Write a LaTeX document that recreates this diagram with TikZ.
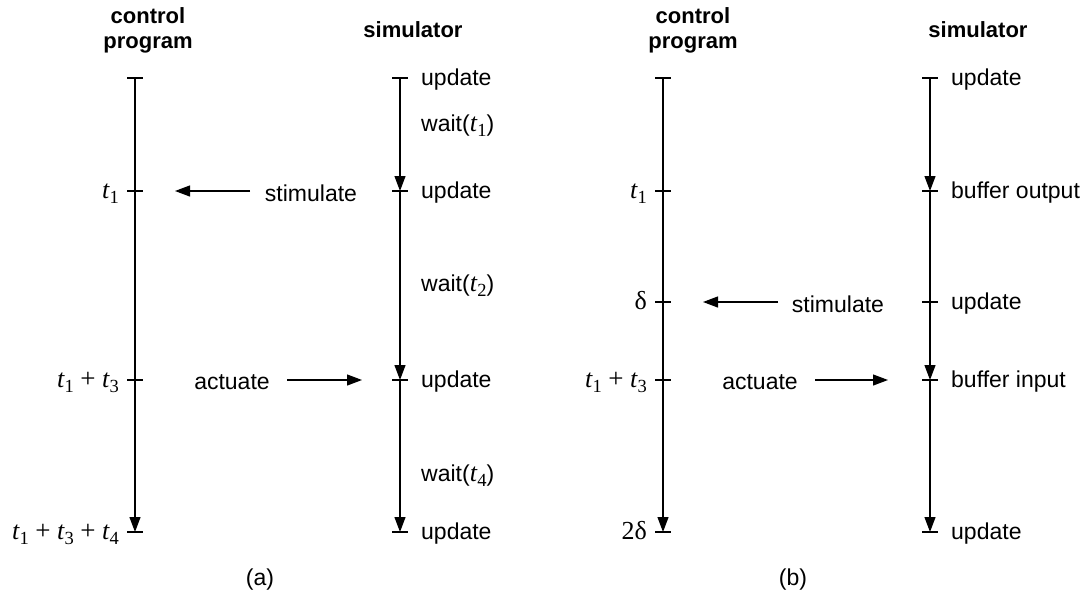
\documentclass[tikz,border=0pt]{standalone}
\usepackage{fontspec}
\setmainfont{Liberation Sans}
\newfontfamily\serf{Liberation Serif}
\usetikzlibrary{arrows.meta}

% time variables set in a Times-like italic with subscripts
\newcommand\tv[1]{{\serf\fontsize{26}{28}\selectfont\itshape t}\kern0.3pt\raisebox{-0.22em}{\serf\fontsize{18.5}{19}\selectfont #1}}
\newcommand\pl{\hspace{6.5pt}{\serf\fontsize{27}{28}\selectfont +}\hspace{6.5pt}}
\newcommand\dl{{\serf\fontsize{26}{28}\selectfont δ}}

\tikzset{
  arr/.style={line width=1.2pt,-{Triangle[length=15pt,width=11pt]}},
  tickmark/.style={line width=1.2pt},
  head/.style={font=\fontsize{22}{25}\selectfont\bfseries, align=center, inner sep=0},
  rlab/.style={font=\fontsize{23}{26}\selectfont, anchor=west, inner sep=0, yshift=-2pt},
  llab/.style={font=\fontsize{23}{26}\selectfont, anchor=base east, inner sep=0, yshift=-7pt},
  msg/.style={font=\fontsize{23}{26}\selectfont, inner sep=0, yshift=-2pt},
  subcap/.style={font=\fontsize{23}{26}\selectfont, inner sep=0},
}
\newcommand\tick[1]{\draw[tickmark] ([xshift=-8pt]#1) -- ([xshift=8pt]#1);}

\begin{document}
\begin{tikzpicture}[x=1pt,y=-1pt]
\useasboundingbox (0,0) rectangle (1088,600);

% ---------------- (a) ----------------
\node[head] (ha) at (148,30) {control\\program};
\node[head] (sa) at (413,30) {simulator};

\coordinate (ca0) at (135,78);
\coordinate (ca1) at (135,191);
\coordinate (ca2) at (135,380);
\coordinate (ca3) at (135,532);
\coordinate (sa0) at (400,78);
\coordinate (sa1) at (400,191);
\coordinate (sa2) at (400,380);
\coordinate (sa3) at (400,532);

\draw[arr] (ca0) -- (ca3);
\draw[arr] (sa0) -- (sa1);
\draw[arr] (sa1) -- (sa2);
\draw[arr] (sa2) -- (sa3);
\foreach \p in {ca0,ca1,ca2,ca3,sa0,sa1,sa2,sa3} {\tick{\p}}

\node[llab] (la1) at ([xshift=-16pt]ca1) {\tv{1}};
\node[llab] (la2) at ([xshift=-16pt]ca2) {\tv{1}\pl\tv{3}};
\node[llab] (la3) at ([xshift=-16pt]ca3) {\tv{1}\pl\tv{3}\pl\tv{4}};

\node[rlab] (ua0) at ([xshift=21pt]sa0) {update};
\node[rlab] (wa1) at (421,124) {wait(\tv{1})};
\node[rlab] (ua1) at ([xshift=21pt]sa1) {update};
\node[rlab] (wa2) at (421,284) {wait(\tv{2})};
\node[rlab] (ua2) at ([xshift=21pt]sa2) {update};
\node[rlab] (wa4) at (421,474) {wait(\tv{4})};
\node[rlab] (ua3) at ([xshift=21pt]sa3) {update};

\node[msg] (stima) at (311,191) {stimulate};
\coordinate (stima-s) at (250,191);
\coordinate (stima-e) at (175,191);
\draw[arr] (stima-s) -- (stima-e);

\node[msg] (acta) at (232,380) {actuate};
\coordinate (acta-s) at (287,380);
\coordinate (acta-e) at (362,380);
\draw[arr] (acta-s) -- (acta-e);

\node[subcap] (capa) at (260,580) {(a)};

% ---------------- (b) ----------------
\node[head] (hb) at (693,30) {control\\program};
\node[head] (sb) at (978,30) {simulator};

\coordinate (cb0) at (663,78);
\coordinate (cb1) at (663,191);
\coordinate (cb2) at (663,302);
\coordinate (cb3) at (663,380);
\coordinate (cb4) at (663,532);
\coordinate (sb0) at (930,78);
\coordinate (sb1) at (930,191);
\coordinate (sb2) at (930,302);
\coordinate (sb3) at (930,380);
\coordinate (sb4) at (930,532);

\draw[arr] (cb0) -- (cb4);
\draw[arr] (sb0) -- (sb1);
\draw[arr] (sb1) -- (sb3);
\draw[arr] (sb3) -- (sb4);
\foreach \p in {cb0,cb1,cb2,cb3,cb4,sb0,sb1,sb2,sb3,sb4} {\tick{\p}}

\node[llab] (lb1) at ([xshift=-16pt]cb1) {\tv{1}};
\node[llab] (lb2) at ([xshift=-16pt]cb2) {\dl};
\node[llab] (lb3) at ([xshift=-16pt]cb3) {\tv{1}\pl\tv{3}};
\node[llab] (lb4) at ([xshift=-16pt]cb4) {{\serf\fontsize{26}{28}\selectfont 2}\dl};

\node[rlab] (ub0) at ([xshift=21pt]sb0) {update};
\node[rlab] (ub1) at ([xshift=21pt]sb1) {buffer output};
\node[rlab] (ub2) at ([xshift=21pt]sb2) {update};
\node[rlab] (ub3) at ([xshift=21pt]sb3) {buffer input};
\node[rlab] (ub4) at ([xshift=21pt]sb4) {update};

\node[msg] (stimb) at (838,302) {stimulate};
\coordinate (stimb-s) at (778,302);
\coordinate (stimb-e) at (703,302);
\draw[arr] (stimb-s) -- (stimb-e);

\node[msg] (actb) at (760,380) {actuate};
\coordinate (actb-s) at (815,380);
\coordinate (actb-e) at (888,380);
\draw[arr] (actb-s) -- (actb-e);

\node[subcap] (capb) at (793,580) {(b)};
\end{tikzpicture}
\end{document}
